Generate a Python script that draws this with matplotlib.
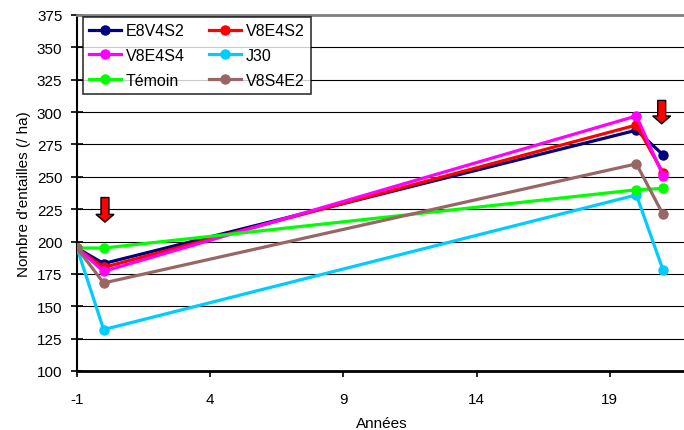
import matplotlib
matplotlib.use("Agg")
import matplotlib.pyplot as plt
from matplotlib.patches import FancyArrow

plt.rcParams['font.family'] = ['Liberation Sans', 'DejaVu Sans']
plt.rcParams['axes.unicode_minus'] = False

annees = [-1, 0, 20, 21]
series = ["E8V4S2", "V8E4S2", "V8E4S4", "J30", "Témoin", "V8S4E2"]
e8v4s2 = [195, 183, 286, 267]
v8e4s2 = [195, 180, 290, 253]
v8e4s4 = [195, 177, 297, 251]
j30 = [195, 132, 236, 178]
temoin = [195, 195, 240, 241]
v8s4e2 = [195, 168, 260, 221]
couleurs = ["#000080", "#FF0000", "#FF00FF", "#00CCFF", "#00FF00", "#996666"]

valeurs = [e8v4s2, v8e4s2, v8e4s4, j30, temoin, v8s4e2]

fig = plt.figure(figsize=(6.84, 4.31), dpi=100)
ax = fig.add_axes([77/684, 1 - 372/431, 610/684, 356/431])

for y in range(125, 376, 25):
    ax.axhline(y, color='black', lw=0.8, zorder=1)

lignes = {}
for nom, vals, c in zip(series, valeurs, couleurs):
    l, = ax.plot(annees, vals, color=c, lw=2.3, marker='o', ms=6.5, zorder=3, label=nom)
    lignes[nom] = l

# fleches rouges
for xa, ytop, ybot in [(0.05, 234, 215), (20.95, 309, 291)]:
    ax.add_patch(FancyArrow(xa, ytop, 0, ybot - ytop, width=0.3, head_width=0.68,
                            head_length=6, length_includes_head=True,
                            fc='red', ec='black', lw=1, zorder=5))

ax.set_xlim(-1, 21.9)
ax.set_ylim(100, 375)
ax.set_xticks([-1, 4, 9, 14, 19])
ax.set_yticks(range(100, 376, 25))
ax.tick_params(axis='y', direction='inout', length=8, width=1.2, labelsize=11, pad=6.5)
ax.tick_params(axis='x', direction='out', length=4, width=1.2, labelsize=11, pad=11)
ax.spines['right'].set_visible(False)
ax.spines['top'].set_color('#808080')
ax.spines['top'].set_linewidth(2)
ax.spines['left'].set_linewidth(1.5)
ax.spines['bottom'].set_linewidth(2)
ax.set_xlabel("Années", fontsize=11, labelpad=7)
ax.set_ylabel("Nombre d'entailles (/ ha)", fontsize=11, labelpad=4)

ordre = ["E8V4S2", "V8E4S4", "Témoin", "V8E4S2", "J30", "V8S4E2"]
leg = ax.legend([lignes[n] for n in ordre], ordre, ncol=2, loc='upper left',
                bbox_to_anchor=(6/610, 1 - 2/356), borderaxespad=0,
                fontsize=11.5, frameon=True,
                fancybox=False, edgecolor='black', handlelength=2.0,
                columnspacing=1.5, handletextpad=0.3, borderpad=0.4,
                labelspacing=0.6)
leg.get_frame().set_linewidth(1.2)
leg.set_zorder(6)

fig.savefig("out.png", dpi=100)
